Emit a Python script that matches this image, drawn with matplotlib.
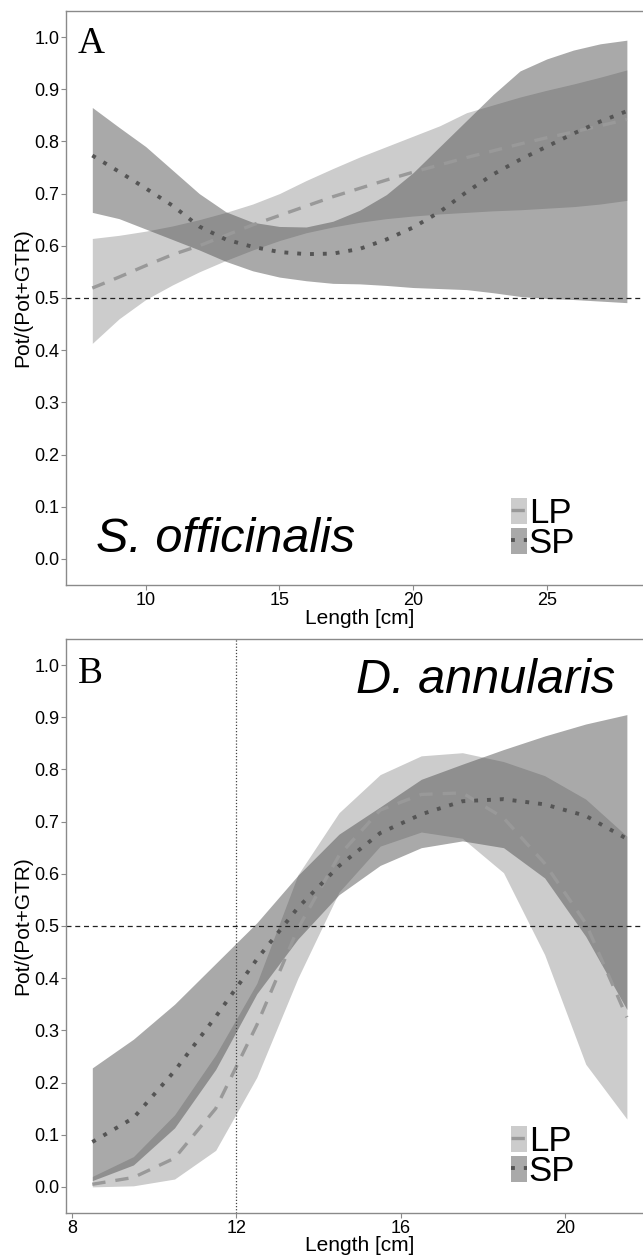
import matplotlib
matplotlib.use('Agg')
import matplotlib.pyplot as plt
from matplotlib.patches import Patch
from matplotlib.lines import Line2D
from matplotlib.legend_handler import HandlerTuple

plt.rcParams['font.family'] = ['Liberation Sans', 'DejaVu Sans']

# Panel A - S. officinalis
len_a = [8, 9, 10, 11, 12, 13, 14, 15, 16, 17, 18, 19, 20, 21, 22, 23, 24, 25, 26, 27, 28]
lp_fit_a = [0.519, 0.54, 0.562, 0.583, 0.60, 0.62, 0.64, 0.658, 0.676, 0.694, 0.71,
            0.726, 0.741, 0.755, 0.769, 0.782, 0.795, 0.807, 0.818, 0.83, 0.842]
lp_hi_a = [0.614, 0.62, 0.628, 0.638, 0.65, 0.664, 0.68, 0.70, 0.725, 0.748, 0.77,
           0.79, 0.81, 0.83, 0.855, 0.87, 0.885, 0.898, 0.91, 0.923, 0.937]
lp_lo_a = [0.413, 0.46, 0.497, 0.525, 0.55, 0.572, 0.592, 0.61, 0.625, 0.636, 0.645,
           0.652, 0.657, 0.661, 0.664, 0.667, 0.669, 0.672, 0.675, 0.68, 0.687]
sp_fit_a = [0.773, 0.742, 0.71, 0.677, 0.637, 0.612, 0.598, 0.588, 0.584, 0.585, 0.594,
            0.612, 0.635, 0.665, 0.703, 0.737, 0.765, 0.79, 0.815, 0.838, 0.858]
sp_hi_a = [0.865, 0.827, 0.79, 0.745, 0.70, 0.665, 0.645, 0.637, 0.636, 0.647, 0.668,
           0.698, 0.74, 0.79, 0.84, 0.89, 0.935, 0.958, 0.975, 0.987, 0.994]
sp_lo_a = [0.664, 0.652, 0.632, 0.612, 0.592, 0.57, 0.552, 0.54, 0.533, 0.528, 0.527,
           0.524, 0.52, 0.518, 0.516, 0.51, 0.503, 0.499, 0.497, 0.494, 0.491]

# Panel B - D. annularis
len_b = [8.5, 9.5, 10.5, 11.5, 12.5, 13.5, 14.5, 15.5, 16.5, 17.5, 18.5, 19.5, 20.5, 21.5]
lp_fit_b = [0.005, 0.018, 0.055, 0.15, 0.31, 0.495, 0.635, 0.722, 0.752, 0.755, 0.707, 0.62, 0.505, 0.325]
lp_hi_b = [0.02, 0.058, 0.138, 0.253, 0.39, 0.598, 0.717, 0.79, 0.826, 0.832, 0.815, 0.788, 0.743, 0.672]
lp_lo_b = [0.0, 0.002, 0.015, 0.07, 0.21, 0.40, 0.565, 0.653, 0.68, 0.668, 0.602, 0.445, 0.235, 0.13]
sp_fit_b = [0.086, 0.132, 0.222, 0.326, 0.436, 0.535, 0.615, 0.678, 0.714, 0.739, 0.743, 0.733, 0.711, 0.667]
sp_hi_b = [0.228, 0.283, 0.35, 0.428, 0.506, 0.597, 0.676, 0.728, 0.781, 0.81, 0.838, 0.864, 0.887, 0.905]
sp_lo_b = [0.012, 0.042, 0.113, 0.225, 0.37, 0.475, 0.56, 0.616, 0.65, 0.663, 0.65, 0.592, 0.48, 0.34]

yticks = [0.0, 0.1, 0.2, 0.3, 0.4, 0.5, 0.6, 0.7, 0.8, 0.9, 1.0]
groups = ['LP', 'SP']

LP_FILL = '#cccccc'
LP_LINE = '#999999'
SP_FILL = '#505050'
SP_ALPHA = 0.49
SP_LINE = '#555555'
LP_DASH = (0, (4, 3))
SP_DOT = (0, (1, 2.3))
AXCOL = '#8a8a8a'


def draw_panel(ax, x, lp_fit, lp_lo, lp_hi, sp_fit, sp_lo, sp_hi, xlim, xticks):
    ax.fill_between(x, lp_lo, lp_hi, color=LP_FILL, linewidth=0)
    ax.plot(x, lp_fit, color=LP_LINE, lw=2.4, ls=LP_DASH)
    ax.fill_between(x, sp_lo, sp_hi, color=SP_FILL, alpha=SP_ALPHA, linewidth=0)
    ax.plot(x, sp_fit, color=SP_LINE, lw=2.8, ls=SP_DOT)
    ax.axhline(0.5, color='#222222', lw=0.9, ls=(0, (4, 3)))

    ax.set_xlim(*xlim)
    ax.set_ylim(-0.05, 1.05)
    ax.set_xticks(xticks)
    ax.set_yticks(yticks)
    ax.set_yticklabels(['%.1f' % v for v in yticks])
    ax.tick_params(length=3.5, width=0.8, color=AXCOL, labelsize=13, labelcolor='black')
    ax.tick_params(axis='y', pad=1)
    ax.tick_params(axis='x', pad=1.5)
    for s in ['left', 'top', 'bottom']:
        ax.spines[s].set_color(AXCOL)
        ax.spines[s].set_linewidth(1.0)
    ax.spines['right'].set_visible(False)

    ax.set_xlabel('Length [cm]', fontsize=15)
    ax.set_ylabel('Pot/(Pot+GTR)', fontsize=15)
    ax.xaxis.set_label_coords(0.5, -0.041)
    ax.yaxis.set_label_coords(-0.057, 0.5)

    handles = [
        (Patch(facecolor=LP_FILL, edgecolor='none'),
         Line2D([], [], color=LP_LINE, lw=2.4, ls=LP_DASH)),
        (Patch(facecolor=SP_FILL, alpha=SP_ALPHA, edgecolor='none'),
         Line2D([], [], color=SP_LINE, lw=2.8, ls=SP_DOT)),
    ]
    ax.legend(handles, groups, handler_map={tuple: HandlerTuple(ndivide=1)},
              loc='upper left', bbox_to_anchor=(0.757, 0.153), fontsize=25,
              handlelength=0.47, handleheight=0.81, handletextpad=0.05,
              labelspacing=-0.09, borderpad=0, borderaxespad=0, frameon=False)


fig = plt.figure(figsize=(6.43, 12.58), dpi=100)
ax_a = fig.add_axes([0.102, 0.535, 0.9145, 0.4563])
ax_b = fig.add_axes([0.102, 0.0358, 0.9145, 0.4563])

draw_panel(ax_a, len_a, lp_fit_a, lp_lo_a, lp_hi_a, sp_fit_a, sp_lo_a, sp_hi_a,
           (7, 29), [10, 15, 20, 25])
draw_panel(ax_b, len_b, lp_fit_b, lp_lo_b, lp_hi_b, sp_fit_b, sp_lo_b, sp_hi_b,
           (7.85, 22.15), [8, 12, 16, 20])
ax_b.axvline(12, color='#444444', lw=0.9, ls=(0, (1, 1.5)))

ax_a.text(0.021, 0.927, 'A', transform=ax_a.transAxes, fontsize=27,
          family='Liberation Serif', va='baseline', ha='left')
ax_b.text(0.021, 0.923, 'B', transform=ax_b.transAxes, fontsize=27,
          family='Liberation Serif', va='baseline', ha='left')
ax_a.text(0.051, 0.0575, 'S. officinalis', transform=ax_a.transAxes, fontsize=35,
          style='italic', va='baseline', ha='left')
ax_b.text(0.934, 0.906, 'D. annularis', transform=ax_b.transAxes, fontsize=35,
          style='italic', va='baseline', ha='right')

fig.savefig('out.png', dpi=100)
